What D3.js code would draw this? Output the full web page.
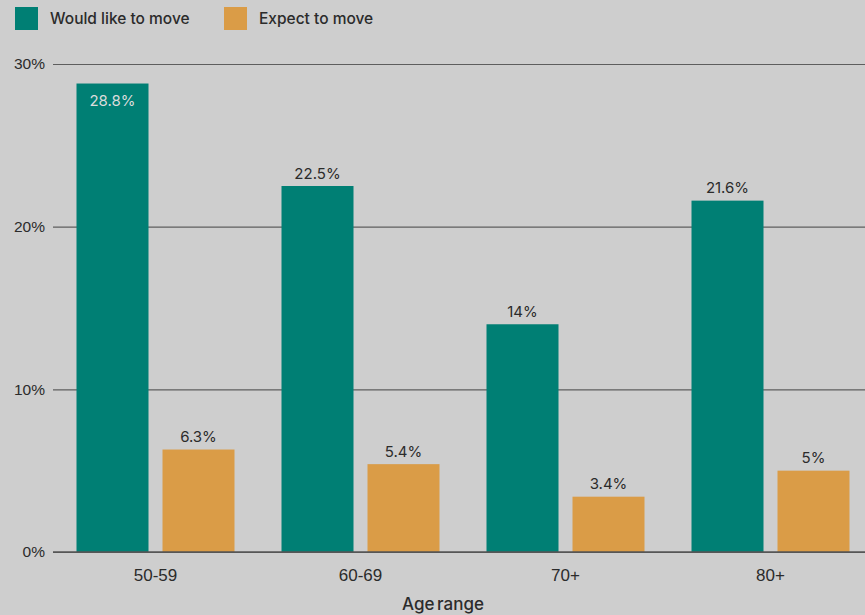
<!DOCTYPE html>
<html>
<head>
<meta charset="utf-8">
<script src="https://cdn.jsdelivr.net/npm/d3@7"></script>
<style>
  html, body { margin: 0; padding: 0; background: #cecece; }
  svg { display: block; font-family: Inter, "Noto Sans", sans-serif; }
</style>
</head>
<body>
<svg id="chart" width="865" height="615"></svg>
<script>
// Share of people who would like to / expect to move, by age range
const ageRanges = ["50-59", "60-69", "70+", "80+"];
const seriesNames = ["Would like to move", "Expect to move"];
const wouldLike = [28.8, 22.5, 14, 21.6];
const expectTo = [6.3, 5.4, 3.4, 5];
const yTicks = [0, 10, 20, 30];

const colors = { "Would like to move": "#007f74", "Expect to move": "#da9c47" };
const textColor = "#2b2b2b";

const svg = d3.select("#chart");
const plotLeft = 53, plotRight = 865, plotTop = 64, plotBottom = 552;

const rows = ageRanges.map((a, i) => ({
  age: a,
  values: [
    { series: seriesNames[0], value: wouldLike[i] },
    { series: seriesNames[1], value: expectTo[i] }
  ]
}));

const x0 = d3.scaleBand()
  .domain(ageRanges)
  .range([plotLeft, plotLeft + 820])
  .paddingInner(47 / 205)
  .paddingOuter(23.5 / 205);

const x1 = d3.scaleBand()
  .domain(seriesNames)
  .range([0, x0.bandwidth()])
  .paddingInner(14 / 86);

const y = d3.scaleLinear().domain([0, 30]).range([plotBottom, plotTop]);

// Gridlines and y tick labels
const yAxis = d3.axisLeft(y)
  .tickValues(yTicks)
  .tickFormat(d => d + "%")
  .tickSize(-(plotRight - plotLeft))
  .tickPadding(8);

const gy = svg.append("g")
  .attr("transform", `translate(${plotLeft},0)`)
  .call(yAxis);
gy.select(".domain").remove();
gy.selectAll(".tick line")
  .attr("stroke", "#5e5e5e")
  .attr("stroke-width", 1.2);
gy.selectAll(".tick text")
  .attr("fill", textColor)
  .attr("font-size", 15.5);

// Bars
const groups = svg.append("g").selectAll("g")
  .data(rows)
  .join("g")
  .attr("transform", d => `translate(${x0(d.age)},0)`);

groups.selectAll("rect")
  .data(d => d.values)
  .join("rect")
  .attr("x", d => x1(d.series))
  .attr("width", x1.bandwidth())
  .attr("y", d => y(d.value))
  .attr("height", d => y(0) - y(d.value))
  .attr("fill", d => colors[d.series]);

// Value labels: above the bar, or inside when the bar reaches the top
groups.selectAll("text.val")
  .data(d => d.values)
  .join("text")
  .attr("class", "val")
  .attr("x", d => x1(d.series) + x1.bandwidth() / 2)
  .attr("y", d => d.value > 27 ? y(d.value) + 22 : y(d.value) - 7.5)
  .attr("text-anchor", "middle")
  .attr("font-size", 15)
  .attr("fill", d => d.value > 27 ? "#dcdcdc" : textColor)
  .text(d => d.value + "%");

// Baseline
svg.append("line")
  .attr("x1", plotLeft).attr("x2", plotRight)
  .attr("y1", y(0)).attr("y2", y(0))
  .attr("stroke", "#555")
  .attr("stroke-width", 1.5);

// X axis labels
const xAxis = d3.axisBottom(x0).tickSize(0).tickPadding(17);
const gx = svg.append("g")
  .attr("transform", `translate(0,${plotBottom})`)
  .call(xAxis);
gx.select(".domain").remove();
gx.selectAll(".tick text")
  .attr("fill", textColor)
  .attr("font-size", 17);

// Axis title
svg.append("text")
  .attr("x", 443)
  .attr("y", 610)
  .attr("text-anchor", "middle")
  .attr("font-size", 17)
  .attr("font-weight", 500)
  .attr("word-spacing", -2)
  .attr("fill", textColor)
  .text("Age range");

// Legend
const legend = svg.append("g");
const legendX = [15, 224];
seriesNames.forEach((s, i) => {
  legend.append("rect")
    .attr("x", legendX[i]).attr("y", 7)
    .attr("width", 23).attr("height", 23)
    .attr("fill", colors[s]);
  legend.append("text")
    .attr("x", legendX[i] + 35).attr("y", 24)
    .attr("font-size", 15.5)
    .attr("font-weight", 500)
    .attr("fill", textColor)
    .text(s);
});
</script>
</body>
</html>
